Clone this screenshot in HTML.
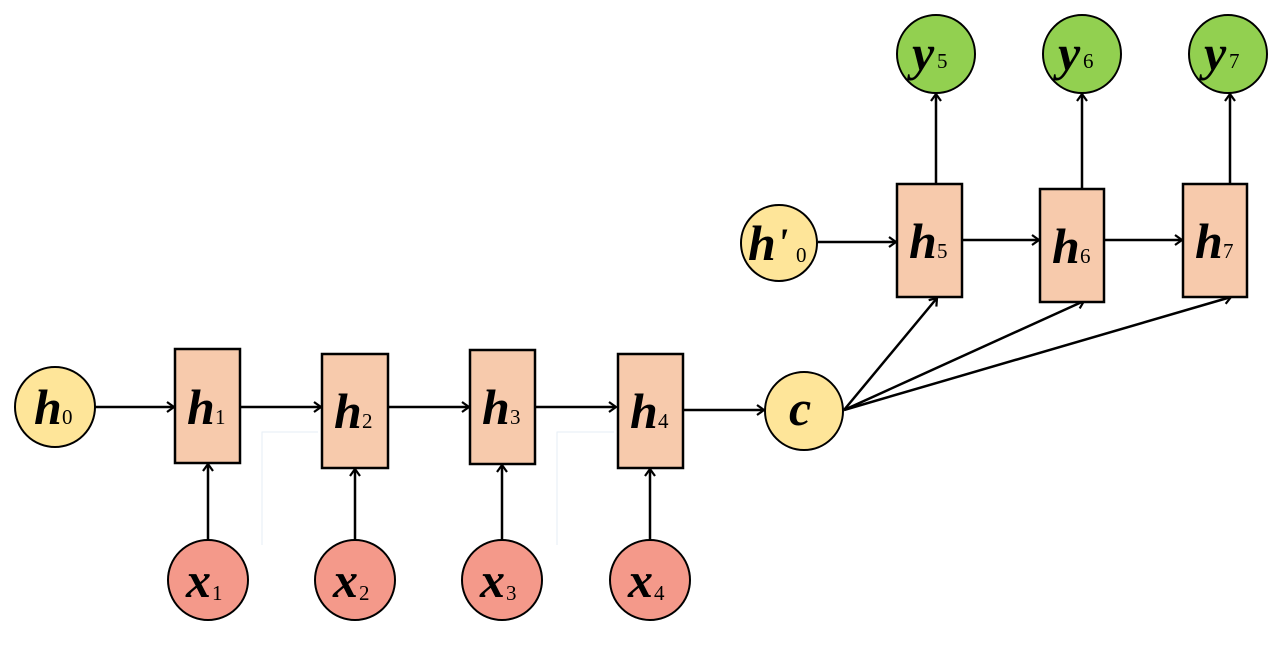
<!DOCTYPE html>
<html><head><meta charset="utf-8"><style>
html,body{margin:0;padding:0;background:#fff;}
svg{display:block;}
.m{font-family:"Liberation Serif",serif;font-style:italic;font-weight:bold;font-size:50px;fill:#000;}
.s{font-family:"Liberation Serif",serif;font-size:21px;fill:#000;}
</style></head><body>
<svg width="1277" height="647" viewBox="0 0 1277 647" xmlns="http://www.w3.org/2000/svg">
<defs>
<marker id="a" markerWidth="12" markerHeight="12" refX="10" refY="6" orient="auto" markerUnits="userSpaceOnUse">
<path d="M3,1 L10,6 L3,11" fill="none" stroke="#000" stroke-width="2.2"/>
</marker>
</defs>
<g stroke="#e6eef6" stroke-width="1" fill="none">
<path d="M262,545 V432 H318"/>
<path d="M557,545 V432 H614"/>
</g>
<g stroke="#000" stroke-width="2.5" fill="none" marker-end="url(#a)">
<line x1="95" y1="407" x2="174" y2="407"/>
<line x1="240" y1="407" x2="321" y2="407"/>
<line x1="388" y1="407" x2="469" y2="407"/>
<line x1="536" y1="407" x2="616" y2="407"/>
<line x1="684" y1="410" x2="764" y2="410"/>
<line x1="208" y1="540" x2="208" y2="464"/>
<line x1="355" y1="540" x2="355" y2="469"/>
<line x1="502" y1="540" x2="502" y2="465"/>
<line x1="650" y1="540" x2="650" y2="469"/>
<line x1="818" y1="242" x2="896" y2="242"/>
<line x1="962" y1="240" x2="1039" y2="240"/>
<line x1="1104" y1="240" x2="1182" y2="240"/>
<line x1="936" y1="184" x2="936" y2="94"/>
<line x1="1082" y1="189" x2="1082" y2="94"/>
<line x1="1230" y1="184" x2="1230" y2="94"/>
<line x1="844" y1="410" x2="937" y2="298"/>
<line x1="844" y1="410" x2="1084" y2="301"/>
<line x1="844" y1="410" x2="1231" y2="297"/>
</g>
<g stroke="#000" stroke-width="2.5">
<rect x="175" y="349" width="65" height="114" fill="#f7caac"/>
<rect x="322" y="354" width="66" height="114" fill="#f7caac"/>
<rect x="470" y="350" width="65" height="114" fill="#f7caac"/>
<rect x="618" y="354" width="65" height="114" fill="#f7caac"/>
<rect x="897" y="184" width="65" height="113" fill="#f7caac"/>
<rect x="1040" y="189" width="64" height="113" fill="#f7caac"/>
<rect x="1183" y="184" width="64" height="113" fill="#f7caac"/>
</g>
<g stroke="#000" stroke-width="2">
<circle cx="55" cy="407" r="40" fill="#fee599"/>
<circle cx="804" cy="411" r="39" fill="#fee599"/>
<circle cx="779" cy="243" r="38" fill="#fee599"/>
<circle cx="208" cy="580" r="40" fill="#f4998a"/>
<circle cx="355" cy="580" r="40" fill="#f4998a"/>
<circle cx="502" cy="580" r="40" fill="#f4998a"/>
<circle cx="650" cy="580" r="40" fill="#f4998a"/>
<circle cx="936" cy="54" r="39" fill="#92d050"/>
<circle cx="1082" cy="54" r="39" fill="#92d050"/>
<circle cx="1228" cy="54" r="39" fill="#92d050"/>
</g>
<g>
<text class="m" x="34" y="424">h</text><text class="s" x="62" y="424">0</text>
<text class="m" x="187" y="424">h</text><text class="s" x="215" y="424">1</text>
<text class="m" x="334" y="428">h</text><text class="s" x="362" y="428">2</text>
<text class="m" x="482" y="424">h</text><text class="s" x="510" y="424">3</text>
<text class="m" x="630" y="428">h</text><text class="s" x="658" y="428">4</text>
<text class="m" x="789" y="425">c</text>
<text class="m" x="748" y="260">h</text><text class="m" x="777" y="256" style="font-size:40px">'</text><text class="s" x="796" y="262">0</text>
<text class="m" x="909" y="258">h</text><text class="s" x="937" y="258">5</text>
<text class="m" x="1052" y="263">h</text><text class="s" x="1080" y="263">6</text>
<text class="m" x="1195" y="258">h</text><text class="s" x="1223" y="258">7</text>
<text class="m" x="186" y="597">x</text><text class="s" x="212" y="600">1</text>
<text class="m" x="333" y="597">x</text><text class="s" x="359" y="600">2</text>
<text class="m" x="480" y="597">x</text><text class="s" x="506" y="600">3</text>
<text class="m" x="628" y="597">x</text><text class="s" x="654" y="600">4</text>
<text class="m" x="912" y="70">y</text><text class="s" x="937" y="68">5</text>
<text class="m" x="1058" y="70">y</text><text class="s" x="1083" y="68">6</text>
<text class="m" x="1204" y="70">y</text><text class="s" x="1229" y="68">7</text>
</g>
</svg>
</body></html>
